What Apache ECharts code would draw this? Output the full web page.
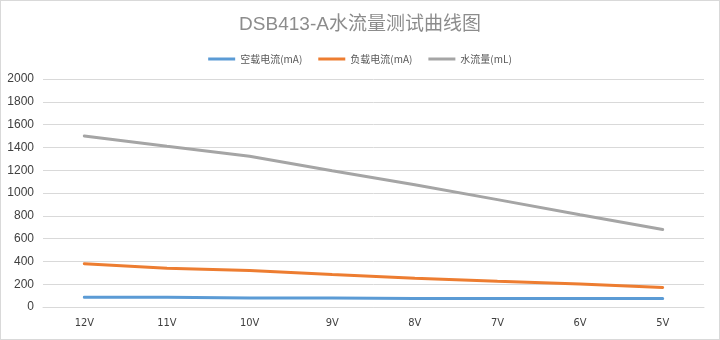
<!DOCTYPE html>
<html><head><meta charset="utf-8">
<script src="https://cdn.jsdelivr.net/npm/echarts@6/dist/echarts.min.js"></script>
<style>
html,body{margin:0;padding:0;background:#fff;}
#wrap{position:absolute;left:0;top:0;width:718px;height:338px;border:1px solid #d9d9d9;}
#c{width:718px;height:338px;}
</style></head>
<body><div id="wrap"><div id="c"></div></div>
<script>
const categories = ['12V','11V','10V','9V','8V','7V','6V','5V'];
const noLoadCurrent = [86, 85, 80, 79, 75, 75, 75, 75];
const loadCurrent = [380, 340, 320, 285, 252, 226, 202, 172];
const waterFlow = [1500, 1410, 1322, 1196, 1072, 942, 810, 680];
const seriesNames = ['空载电流(mA)', '负载电流(mA)', '水流量(mL)'];
const yTicks = {min: 0, max: 2000, interval: 200};

const chart = echarts.init(document.getElementById('c'), null, {renderer: 'canvas'});
const colors = ['#5b9bd5', '#ed7d31', '#a5a5a5'];
const dataSets = [noLoadCurrent, loadCurrent, waterFlow];
chart.setOption({
  animation: false,
  color: colors,
  title: {
    text: 'DSB413-A水流量测试曲线图',
    left: 'center', top: 9,
    textStyle: {fontFamily: 'Liberation Sans, Arial, "Noto Sans CJK SC", sans-serif', fontSize: 19, fontWeight: 'normal', color: '#8c8c8c'}
  },
  legend: {
    top: 48, left: 'center',
    itemWidth: 27, itemHeight: 3, itemGap: 16,
    icon: 'rect',
    textStyle: {fontFamily: '"Noto Sans CJK SC", sans-serif', fontSize: 10, color: '#595959'},
    data: seriesNames
  },
  grid: {left: 42, right: 15, top: 78, bottom: 32},
  xAxis: {
    type: 'category', data: categories, boundaryGap: true,
    axisLine: {show: true, lineStyle: {color: '#d9d9d9'}},
    axisTick: {show: false},
    axisLabel: {color: '#404040', fontSize: 11, fontFamily: '"Liberation Sans Narrow", "DejaVu Sans Condensed", sans-serif', margin: 11}
  },
  yAxis: {
    type: 'value', min: yTicks.min, max: yTicks.max, interval: yTicks.interval,
    axisLine: {show: false}, axisTick: {show: false},
    splitLine: {lineStyle: {color: '#d9d9d9', width: 1}},
    axisLabel: {color: '#404040', fontSize: 12, fontFamily: '"Liberation Sans", Arial, sans-serif', margin: 9, formatter: v => String(v)}
  },
  series: seriesNames.map((n, i) => ({
    name: n, type: 'line', data: dataSets[i],
    symbol: 'none', smooth: false,
    lineStyle: {width: 3, color: colors[i], cap: 'round'},
    itemStyle: {color: colors[i]}
  }))
});
</script></body></html>
